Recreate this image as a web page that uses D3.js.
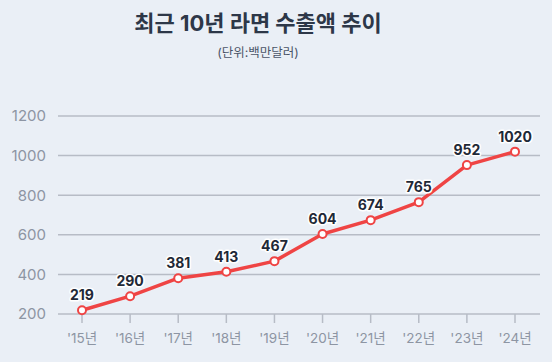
<!DOCTYPE html>
<html>
<head>
<meta charset="utf-8">
<script src="https://cdn.jsdelivr.net/npm/d3@7"></script>
<style>
  html, body { margin: 0; padding: 0; background: #eaeff6; }
  svg { display: block; font-family: Inter, "Noto Sans CJK KR", "Noto Sans", sans-serif; }
</style>
</head>
<body>
<div id="chart"></div>
<script>
const years= ["'15년", "'16년", "'17년", "'18년", "'19년", "'20년", "'21년", "'22년", "'23년", "'24년"];
const exports= [219, 290, 381, 413, 467, 604, 674, 765, 952, 1020];
const yTicks= [200, 400, 600, 800, 1000, 1200];

const W= 552, H= 362;
const margin= { top: 116, right: 12, bottom: 48, left: 58 };

const svg= d3.select('#chart').append('svg')
  .attr('width', W).attr('height', H);

svg.append('rect').attr('width', W).attr('height', H).attr('fill', '#eaeff6');

svg.append('text')
  .attr('x', 258).attr('y', 31)
  .attr('text-anchor', 'middle')
  .attr('font-size', 22).attr('font-weight', 700)
  .attr('fill', '#2d3748')
  .text('최근 10년 라면 수출액 추이');

svg.append('text')
  .attr('x', 258).attr('y', 57)
  .attr('text-anchor', 'middle')
  .attr('font-size', 12.5)
  .attr('fill', '#4a5568')
  .text('(단위:백만달러)');

const x= d3.scalePoint().domain(years).range([82, 515]);
const y= d3.scaleLinear().domain([200, 1200]).range([H-margin.bottom, margin.top]);

// gridlines
svg.append('g')
  .selectAll('line')
  .data(yTicks)
  .join('line')
  .attr('x1', margin.left).attr('x2', W-margin.right)
  .attr('y1', d => y(d)).attr('y2', d => y(d))
  .attr('stroke', '#b7bcc6').attr('stroke-width', 1.5);

// y labels
svg.append('g')
  .selectAll('text')
  .data(yTicks)
  .join('text')
  .attr('x', 46).attr('y', d => y(d))
  .attr('dy', '0.36em')
  .attr('text-anchor', 'end')
  .attr('font-size', 15)
  .attr('fill', '#8d95a3')
  .text(d => d);

// x ticks
svg.append('g')
  .selectAll('line')
  .data(years)
  .join('line')
  .attr('x1', d => x(d)).attr('x2', d => x(d))
  .attr('y1', y(200)).attr('y2', y(200)+9)
  .attr('stroke', '#b7bcc6').attr('stroke-width', 1.5);

svg.append('g')
  .selectAll('text')
  .data(years)
  .join('text')
  .attr('x', d => x(d)).attr('y', y(200)+29)
  .attr('text-anchor', 'middle')
  .attr('font-size', 13.5)
  .attr('fill', '#8d95a3')
  .text(d => d);

const pts= years.map((yr, i) => ({ yr, v: exports[i] }));

svg.append('path')
  .datum(pts)
  .attr('fill', 'none')
  .attr('stroke', '#ef4444')
  .attr('stroke-width', 3.5)
  .attr('stroke-linejoin', 'round')
  .attr('d', d3.line().x(d => x(d.yr)).y(d => y(d.v)));

svg.append('g')
  .selectAll('circle')
  .data(pts)
  .join('circle')
  .attr('cx', d => x(d.yr)).attr('cy', d => y(d.v))
  .attr('r', 4)
  .attr('fill', '#fff')
  .attr('stroke', '#ef4444').attr('stroke-width', 2);

svg.append('g')
  .selectAll('text')
  .data(pts)
  .join('text')
  .attr('x', d => x(d.yr)).attr('y', d => y(d.v)-10)
  .attr('text-anchor', 'middle')
  .attr('font-size', 14).attr('font-weight', 700)
  .attr('fill', '#1f2937')
  .attr('stroke', '#fff').attr('stroke-width', 3)
  .attr('stroke-linejoin', 'round')
  .attr('paint-order', 'stroke')
  .text(d => d.v);
</script>
</body>
</html>
